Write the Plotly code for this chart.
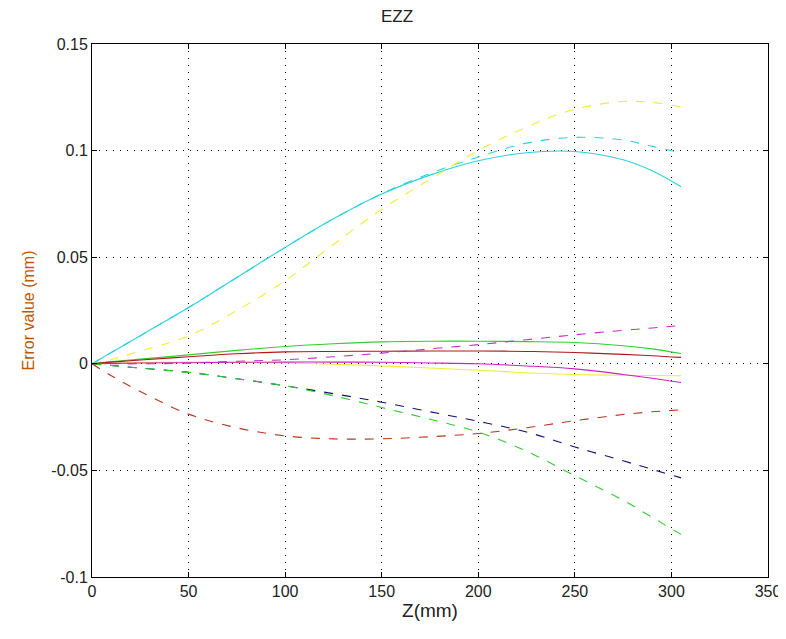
import plotly.graph_objects as go

# Z positions (mm) at which values were read
z = [0, 10, 25, 50, 75, 100, 125, 150, 175, 200, 225, 250, 275, 290, 305]

cyan_solid   = [0, 0.0053, 0.0132, 0.0264, 0.0405, 0.0546, 0.0680, 0.0796, 0.0885, 0.0952, 0.0990, 0.0996, 0.0957, 0.0905, 0.0830]
cyan_dash    = [0, 0.0053, 0.0132, 0.0264, 0.0405, 0.0546, 0.0680, 0.0798, 0.0893, 0.0970, 0.1035, 0.1062, 0.1050, 0.1020, 0.0990]
yellow_dash  = [0, 0.0020, 0.0060, 0.0131, 0.0250, 0.0390, 0.0560, 0.0725, 0.0865, 0.1000, 0.1110, 0.1194, 0.1230, 0.1226, 0.1205]
green_solid  = [0, 0.0010, 0.0022, 0.0042, 0.0063, 0.0081, 0.0094, 0.0103, 0.0106, 0.0106, 0.0104, 0.0100, 0.0085, 0.0070, 0.0048]
dred_solid   = [0, 0.0008, 0.0018, 0.0033, 0.0047, 0.0056, 0.0058, 0.0059, 0.0060, 0.0060, 0.0058, 0.0053, 0.0044, 0.0038, 0.0030]
mag_dash     = [0, 0.0000, 0.0000, 0.0003, 0.0012, 0.0019, 0.0033, 0.0050, 0.0070, 0.0090, 0.0113, 0.0136, 0.0157, 0.0168, 0.0180]
mag_solid    = [0, 0.0002, 0.0004, 0.0005, 0.0007, 0.0008, 0.0008, 0.0007, 0.0004, 0.0000, -0.0010, -0.0024, -0.0050, -0.0068, -0.0088]
yellow_solid = [0, 0.0003, 0.0006, 0.0008, 0.0007, 0.0004, -0.0002, -0.0010, -0.0020, -0.0030, -0.0042, -0.0050, -0.0054, -0.0055, -0.0056]
navy_dash    = [0, -0.0008, -0.0020, -0.0040, -0.0070, -0.0103, -0.0140, -0.0180, -0.0225, -0.0270, -0.0320, -0.0390, -0.0455, -0.0495, -0.0535]
green_dash   = [0, -0.0008, -0.0020, -0.0040, -0.0070, -0.0103, -0.0150, -0.0205, -0.0260, -0.0320, -0.0410, -0.0525, -0.0640, -0.0720, -0.0800]
brown_dash   = [0, -0.0056, -0.0130, -0.0236, -0.0300, -0.0338, -0.0352, -0.0352, -0.0342, -0.0327, -0.0300, -0.0267, -0.0238, -0.0225, -0.0216]

series = [
    ("cyan solid", cyan_solid, "#2BD3DC", "solid"),
    ("cyan dashed", cyan_dash, "#2BD3DC", "dash"),
    ("yellow dashed", yellow_dash, "#EEEE33", "dash"),
    ("yellow solid", yellow_solid, "#EEEE33", "solid"),
    ("green solid", green_solid, "#33CC33", "solid"),
    ("darkred solid", dred_solid, "#B01818", "solid"),
    ("magenta dashed", mag_dash, "#C030C0", "dash"),
    ("magenta solid", mag_solid, "#D020C0", "solid"),
    ("navy dashed", navy_dash, "#101070", "dash"),
    ("green dashed", green_dash, "#33CC33", "dash"),
    ("brown dashed", brown_dash, "#B03A20", "dash"),
]

x_ticks = [0, 50, 100, 150, 200, 250, 300, 350]
y_ticks = [-0.1, -0.05, 0, 0.05, 0.1, 0.15]
y_tick_labels = ["-0.1", "-0.05", "0", "0.05", "0.1", "0.15"]

fig = go.Figure()
for name, vals, color, dash in series:
    fig.add_trace(go.Scatter(x=z, y=vals, mode="lines", name=name,
                             line=dict(color=color, width=1.1, dash=dash, shape="spline")))

font_family = "Liberation Sans, Arial, sans-serif"
axis_common = dict(showline=True, linecolor="black", linewidth=1, mirror="ticks",
                   ticks="inside", ticklen=5, tickcolor="black", automargin=False,
                   showgrid=True, gridcolor="black", gridwidth=1, griddash="1px,6px",
                   zeroline=False, tickfont=dict(family=font_family, size=16, color="#222222"))

# page body adds an 8px margin, so the figure is sized to fit inside the window
fig.update_layout(
    width=778, height=631,
    margin=dict(l=84, r=18, t=36, b=62),
    paper_bgcolor="white", plot_bgcolor="white",
    showlegend=False,
    title=dict(text="EZZ", x=0.5, xanchor="center", y=0.987, yanchor="middle",
               font=dict(family=font_family, size=17, color="#222222")),
    xaxis=dict(range=[0, 350], tickvals=x_ticks,
               title=dict(text="Z(mm)", font=dict(family=font_family, size=19, color="#222222"), standoff=4),
               **axis_common),
    yaxis=dict(range=[-0.1, 0.15], tickvals=y_ticks, ticktext=y_tick_labels,
               title=dict(text="Error value (mm)", font=dict(family=font_family, size=16, color="#C05800"), standoff=12),
               **axis_common),
)

fig.write_html("out.html")
